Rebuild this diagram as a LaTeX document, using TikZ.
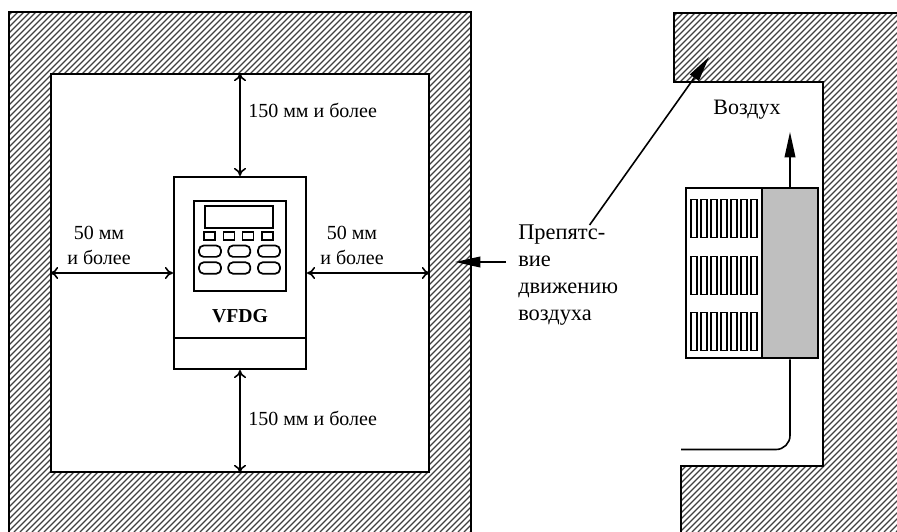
\documentclass[tikz,border=0pt]{standalone}
\usepackage{fontspec}
\setmainfont{Liberation Serif}
\usetikzlibrary{arrows.meta,positioning}
\tikzset{
    wall/.style={line width=1.3pt,draw=black},
    hatchline/.style={line width=0.95pt,draw=black!75},
    room/.style={
    rectangle,draw=black,line width=1.3pt,fill=white,inner sep=0pt
    },
    casebox/.style={
    rectangle,draw=black,line width=1.6pt,fill=white,inner sep=0pt
    },
    slotbox/.style={
    rectangle,draw=black,line width=1pt,inner sep=0pt,minimum width=4.5pt,minimum height=28.5pt
    },
    keybox/.style={
    rectangle,draw=black,line width=1.3pt,inner sep=0pt,minimum width=8.25pt,minimum height=5.8pt
    },
    softkey/.style={
    rectangle,rounded corners=3.5pt,draw=black,line width=1.3pt,inner sep=0pt,minimum width=16.5pt,minimum height=8.5pt
    },
    gap/.style={<->,>={To[length=6pt,width=9pt]},line width=1.2pt},
    flow/.style={line width=1.2pt,-{Stealth[length=19pt,width=8pt,inset=0pt]}},
    dimtext/.style={font=\fontsize{15}{17}\selectfont,inner sep=0pt},
}

\begin{document}
\begin{tikzpicture}[x=0.75pt,y=-0.75pt]
   \useasboundingbox (0,0) rectangle (897,532);

   % left enclosure
   \begin{scope}
      \clip (9,12) rectangle (471,532);
      \foreach \i in {-532,-526,...,480}
         \draw[hatchline] (\i,532) -- ++(532,-532);
   \end{scope}
   \draw[wall] (9,532) -- (9,12) -- (471,12) -- (471,532);
   \node[room,minimum width=283.5pt,minimum height=298.5pt] (room) at (240,273) {};

   % drive
   \node[casebox,minimum width=99pt,minimum height=144pt] (drive) at (240,273) {};
   \draw[line width=1.6pt] (drive.west |- 0,338) -- (drive.east |- 0,338);
   \node[casebox,minimum width=68.5pt,minimum height=68pt] (panel) at (240,246) {};
   \node[casebox,line width=1.3pt,minimum width=51pt,minimum height=16.5pt] (lcd) at (239,216.7) {};
   \foreach \x in {209.7,229,248,267.3}
      \node[keybox] (key\x) at (\x,235.8) {};
   \foreach \x in {210,239.3,269} {
      \node[softkey] (upper\x) at (\x,251.2) {};
      \node[softkey] (lower\x) at (\x,268) {};
   }
   \node[font=\fontsize{14.8}{17}\selectfont\bfseries,inner sep=0pt] (drivename) at (240,316) {VFDG};

   \draw[gap] (room.north) -- (drive.north);
   \draw[gap] (drive.south) -- (room.south);
   \draw[gap] (room.west) -- (drive.west);
   \draw[gap] (drive.east) -- (room.east);

   \node[dimtext,anchor=west] (topgap) at (248,110) {150 мм и более};
   \node[dimtext,anchor=west] (bottomgap) at (248,418) {150 мм и более};
   \node[dimtext,align=center] (leftgap) at (99,245.5) {50 мм\\[1.5pt]и более};
   \node[dimtext,align=center] (rightgap) at (352,245.5) {50 мм\\[1.5pt]и более};

   % right side view
   \begin{scope}
      \clip (897,13) -- (674,13) -- (674,82) -- (823,82) -- (823,466) -- (681,466) -- (681,532) -- (897,532) -- cycle;
      \foreach \i in {-532,-526,...,900}
         \draw[hatchline] (\i,532) -- ++(532,-532);
   \end{scope}
   \draw[wall] (897,13) -- (674,13) -- (674,82) -- (823,82) -- (823,466) -- (681,466) -- (681,532);

   \node[casebox,minimum width=57.5pt,minimum height=127.5pt] (grille) at (724,273.3) {};
   \node[casebox,fill=black!25,minimum width=42pt,minimum height=127.5pt] (heatsink) at (790,273.3) {};
   \foreach \y in {218.3,275.3,331.3}
      \foreach \n in {0,...,6}
         \node[slotbox] (slot\n) at (694+\n*10,\y) {};

   \coordinate (airtop) at (790,132);
   \coordinate (airin) at (681,449.5);
   \draw[flow] (heatsink.north) -- (airtop);
   \draw[line width=1.2pt,rounded corners=10.5pt] (heatsink.south) |- (airin);
   \node[font=\fontsize{16.5}{19}\selectfont,inner sep=0pt] (airname) at (747,110) {Воздух};

   % obstacle note
   \node[align=left,anchor=north west,inner sep=0pt,font=\fontsize{16.8}{20.25}\selectfont] (obstacle) at (518,225) {Препятс-\\вие\\движению\\воздуха};
   \coordinate (leftwall) at (455,262);
   \coordinate (topwall) at (709,57);
   \draw[flow,shorten <=9pt] (obstacle.west |- leftwall) -- (leftwall);
   \draw[flow] (obstacle.67) -- (topwall);
\end{tikzpicture}
\end{document}
